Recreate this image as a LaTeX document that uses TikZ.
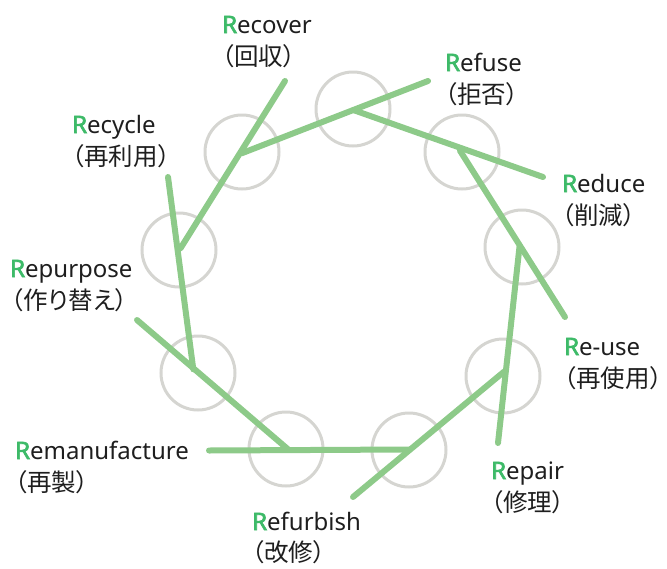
\documentclass[tikz,border=0pt]{standalone}
\usepackage{fontspec}
\setmainfont{Noto Sans}
\newfontfamily\rfont[FakeBold=2.6]{Noto Sans}
\newfontfamily\jp[RawFeature=+palt]{Noto Sans CJK JP}
\definecolor{lgreen}{HTML}{8DCA89}
\definecolor{rgreen}{HTML}{3DBA68}
\definecolor{ringgray}{HTML}{D5D5D1}
\definecolor{txt}{HTML}{1E1E1E}
\newcommand{\gR}{\textcolor{rgreen}{\rfont R}}
\begin{document}
\begin{tikzpicture}[x=1pt,y=-1pt,
  ring/.style={circle, draw=ringgray, line width=3pt, minimum size=74pt, inner sep=0pt},
  gline/.style={draw=lgreen, line width=6pt, line cap=round},
  en/.style={anchor=base west, inner sep=0pt, text=txt, font=\fontsize{24}{28}\selectfont},
  ja/.style={anchor=base west, inner sep=0pt, text=txt, font=\jp\fontsize{24.5}{28}\selectfont}]
\useasboundingbox (0,0) rectangle (667,568);
% circles
\node[ring] (c1) at (353,109) {};
\node[ring] (c2) at (462,152) {};
\node[ring] (c3) at (522,247) {};
\node[ring] (c4) at (503,376) {};
\node[ring] (c5) at (409,450) {};
\node[ring] (c6) at (286,449) {};
\node[ring] (c7) at (198,373) {};
\node[ring] (c8) at (179,250) {};
\node[ring] (c9) at (242,152) {};
% vertices
\coordinate (v1) at (353.3,110);
\coordinate (v2) at (460,150.7);
\coordinate (v3) at (519.5,246.7);
\coordinate (v4) at (504,371.7);
\coordinate (v5) at (409,449.5);
\coordinate (v6) at (288.3,449.5);
\coordinate (v7) at (193.3,369.3);
\coordinate (v8) at (180.5,248.3);
\coordinate (v9) at (241.7,153.3);
% free ends
\coordinate (eRecover) at (285,81);
\coordinate (eRefuse) at (428,81);
\coordinate (eReduce) at (543,177);
\coordinate (eReuse) at (565,317);
\coordinate (eRepair) at (498,443);
\coordinate (eRefurbish) at (353,497);
\coordinate (eReman) at (209,450.5);
\coordinate (eRepurpose) at (137,320);
\coordinate (eRecycle) at (168,177);
% green lines
\draw[gline] (v8) -- (eRecover);
\draw[gline] (v9) -- (eRefuse);
\draw[gline] (v1) -- (eReduce);
\draw[gline] (v2) -- (eReuse);
\draw[gline] (v3) -- (eRepair);
\draw[gline] (v4) -- (eRefurbish);
\draw[gline] (v5) -- (eReman);
\draw[gline] (v6) -- (eRepurpose);
\draw[gline] (v7) -- (eRecycle);
% labels
\node[en] (tRecover) at (222,33) {\gR ecover};
\node[ja] (jRecover) at (222,65) {（回収）};
\node[en] (tRefuse) at (445,71) {\gR efuse};
\node[ja] (jRefuse) at (445,103) {（拒否）};
\node[en] (tReduce) at (562,192) {\gR educe};
\node[ja] (jReduce) at (562,224) {（削減）};
\node[en] (tReuse) at (564,355) {\gR e-use};
\node[ja] (jReuse) at (564,387) {（再使用）};
\node[en] (tRepair) at (491,479) {\gR epair};
\node[ja] (jRepair) at (491,511) {（修理）};
\node[en] (tRefurbish) at (252,530) {\gR efurbish};
\node[ja] (jRefurbish) at (252,561) {（改修）};
\node[en] (tReman) at (15,459) {\gR emanufacture};
\node[ja] (jReman) at (15,491) {（再製）};
\node[en] (tRepurpose) at (10,277) {\gR epurpose};
\node[ja] (jRepurpose) at (11,309) {（作り替え）};
\node[en] (tRecycle) at (72,133) {\gR ecycle};
\node[ja] (jRecycle) at (72,165) {（再利用）};
\end{tikzpicture}
\end{document}
